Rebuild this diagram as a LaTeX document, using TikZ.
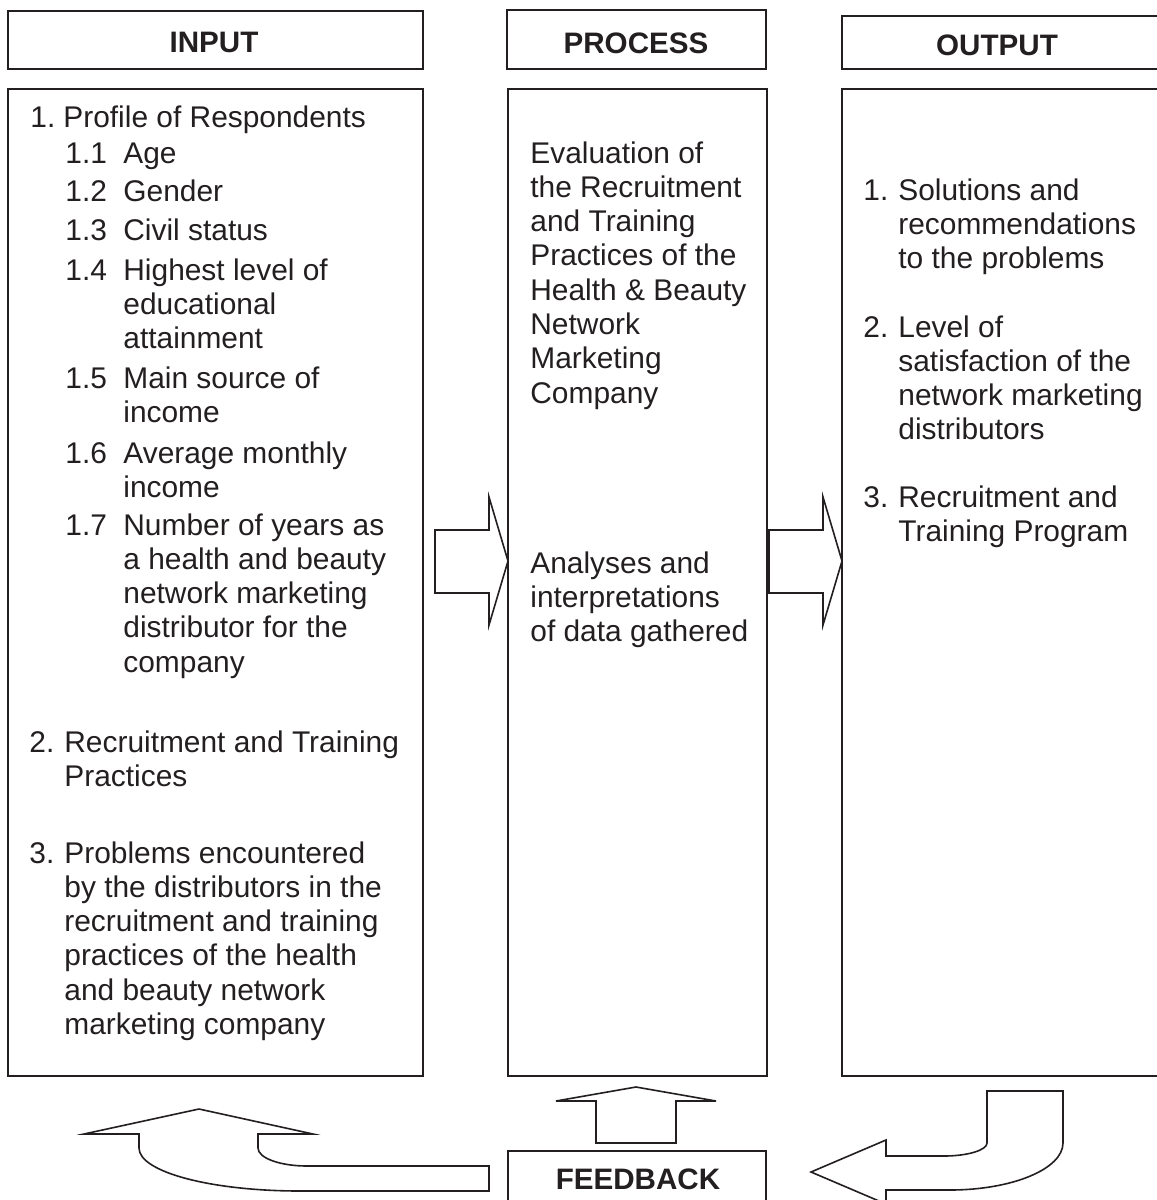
\documentclass[tikz,border=0pt]{standalone}
\usepackage{fontspec}
\setmainfont{Liberation Sans}
\usepackage{xcolor}

\definecolor{ink}{RGB}{35,31,32}
% several lines stacked, baseline on the first one
\newcommand{\textrows}[1]{\begin{tabular}[t]{@{}l@{}}#1\end{tabular}}

\begin{document}
\begin{tikzpicture}[x=0.5pt,y=-0.5pt,
        colbox/.style={draw=ink,line width=1pt},
        heading/.style={font=\fontsize{14.8}{17}\selectfont\bfseries,text=ink,anchor=base,inner sep=0pt},
        entry/.style={font=\fontsize{14.95}{17.15}\selectfont,text=ink,anchor=base west,inner sep=0pt},
        blockarrow/.style={draw=ink,line width=0.8pt,line join=miter,fill=white}]
        \useasboundingbox (0,0) rectangle (1157,1200);
        \clip (0,0) rectangle (1157,1200);

        % headings
        \node[colbox,minimum width=207.5pt,minimum height=29pt] (inputhead) at (215.5,40) {};
        \node[colbox,minimum width=129.5pt,minimum height=29.5pt] (processhead) at (636.5,39.5) {};
        \node[colbox,minimum width=158pt,minimum height=26.5pt] (outputhead) at (1000,42.5) {};
        \node[heading] (inputlabel) at (214,52) {INPUT};
        \node[heading] (processlabel) at (636,53) {PROCESS};
        \node[heading] (outputlabel) at (997,55) {OUTPUT};

        % the three columns
        \node[colbox,minimum width=207.5pt,minimum height=493.5pt] (inputbox) at (215.5,582.5) {};
        \node[colbox,minimum width=129.5pt,minimum height=493.5pt] (processbox) at (637.5,582.5) {};
        \node[colbox,minimum width=158pt,minimum height=493.5pt] (outputbox) at (1000,582.5) {};

        % input list
        \node[entry] (in1) at (30,127) {1.};
        \node[entry] (in1t) at (63,127) {Profile of Respondents};
        \node[entry] (in11) at (65,163) {1.1};
        \node[entry] (in11t) at (123,163) {Age};
        \node[entry] (in12) at (65,201) {1.2};
        \node[entry] (in12t) at (123,201) {Gender};
        \node[entry] (in13) at (65,240) {1.3};
        \node[entry] (in13t) at (123,240) {Civil status};
        \node[entry] (in14) at (65,280) {1.4};
        \node[entry] (in14t) at (123,280) {\textrows{Highest level of\\educational\\attainment}};
        \node[entry] (in15) at (65,388) {1.5};
        \node[entry] (in15t) at (123,388) {\textrows{Main source of\\income}};
        \node[entry] (in16) at (65,463) {1.6};
        \node[entry] (in16t) at (123,463) {\textrows{Average monthly\\income}};
        \node[entry] (in17) at (65,535) {1.7};
        \node[entry] (in17t) at (123,535) {\textrows{Number of years as\\a health and beauty\\network marketing\\distributor for the\\company}};
        \node[entry] (in2) at (29,752) {2.};
        \node[entry] (in2t) at (64,752) {\textrows{Recruitment and Training\\Practices}};
        \node[entry] (in3) at (29,863) {3.};
        \node[entry] (in3t) at (64,863) {\textrows{Problems encountered\\by the distributors in the\\recruitment and training\\practices of the health\\and beauty network\\marketing company}};

        % process
        \node[entry] (proc1) at (530,163) {\textrows{Evaluation of\\the Recruitment\\and Training\\Practices of the\\Health \& Beauty\\Network\\Marketing\\Company}};
        \node[entry] (proc2) at (530,573) {\textrows{Analyses and\\interpretations\\of data gathered}};

        % output list
        \node[entry] (out1) at (863,200) {1.};
        \node[entry] (out1t) at (898,200) {\textrows{Solutions and\\recommendations\\to the problems}};
        \node[entry] (out2) at (863,337) {2.};
        \node[entry] (out2t) at (898,337) {\textrows{Level of\\satisfaction of the\\network marketing\\distributors}};
        \node[entry] (out3) at (863,507) {3.};
        \node[entry] (out3t) at (898,507) {\textrows{Recruitment and\\Training Program}};

        % block arrows between the columns
        \draw[blockarrow] (435,530) -- (489,530) -- (489,497) -- (508,561) -- (489,625) -- (489,593) -- (435,593) -- cycle;
        \draw[blockarrow] (769,530) -- (823,530) -- (823,497) -- (842,561) -- (823,625) -- (823,593) -- (769,593) -- cycle;

        % feedback
        \node[colbox,minimum width=129pt,minimum height=32pt] (feedbackbox) at (637,1183) {};
        \node[heading] (feedbacklabel) at (638,1189) {FEEDBACK};

        \draw[blockarrow] (596,1143) -- (596,1101) -- (556,1101) -- (636,1087) -- (716,1101) -- (676,1101) -- (676,1143) -- cycle;

        % bent arrow from output into feedback
        \draw[blockarrow] (987,1091) -- (1063,1091) -- (1063,1143)
            .. controls (1063,1169) and (1012,1190) .. (950,1190)
            -- (886,1190) -- (886,1204) -- (811,1172) -- (886,1140) -- (886,1156) -- (944,1156)
            .. controls (968,1156) and (987,1150) .. (987,1143) -- cycle;

        % bent arrow from feedback back to input
        \draw[blockarrow] (489,1166) -- (307,1166)
            .. controls (280,1166) and (258,1158) .. (258,1148)
            -- (258,1134) -- (313,1134) -- (199,1109) -- (84,1134) -- (139,1134) -- (139,1148)
            .. controls (139,1172) and (211,1191) .. (300,1191)
            -- (489,1191) -- cycle;
    \end{tikzpicture}
\end{document}
